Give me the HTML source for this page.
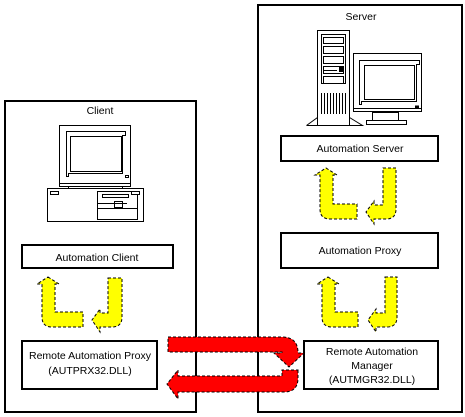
<!DOCTYPE html>
<html><head><meta charset="utf-8"><style>
html,body{margin:0;padding:0;background:#fff;}
svg{display:block;}
text{font-family:"Liberation Sans",sans-serif;font-size:10.5px;fill:#000;}
</style></head><body>
<svg width="465" height="417" viewBox="0 0 465 417" xmlns="http://www.w3.org/2000/svg">
<g fill="none" stroke="#000" stroke-width="2">
<rect x="5" y="101" width="191" height="311"/>
<rect x="258" y="5" width="204" height="407"/>
<rect x="22" y="245" width="151" height="23"/>
<rect x="22" y="341" width="135" height="48"/>
<rect x="281" y="136" width="157" height="25"/>
<rect x="281" y="233" width="157" height="35"/>
<rect x="304" y="341" width="134" height="48"/>
</g>
<text x="100" y="114" text-anchor="middle">Client</text>
<text x="361" y="20" text-anchor="middle">Server</text>
<text x="97" y="261" text-anchor="middle">Automation Client</text>
<text x="90" y="359" text-anchor="middle">Remote Automation Proxy</text>
<text x="90" y="374" text-anchor="middle">(AUTPRX32.DLL)</text>
<text x="360" y="152" text-anchor="middle">Automation Server</text>
<text x="360" y="254" text-anchor="middle">Automation Proxy</text>
<text x="372" y="355" text-anchor="middle">Remote Automation</text>
<text x="372" y="369" text-anchor="middle">Manager</text>
<text x="372" y="383" text-anchor="middle">(AUTMGR32.DLL)</text>

<!-- client computer -->
<g fill="#fff" stroke="#000" stroke-width="1">
<rect x="59.5" y="125.5" width="71" height="58"/>
<path d="M66.5,131.5 H125.5 V135.5 H122.5 V173.5 H68.5 V176.5 H66.5 Z"/>
<rect x="70.5" y="136.5" width="51" height="35"/>
<rect x="125.5" y="175.5" width="3" height="2"/>
<rect x="59.5" y="183.5" width="71" height="3"/>
<rect x="68.5" y="186.5" width="54" height="4"/>
<rect x="47.5" y="188.5" width="96" height="33"/>
<rect x="50.5" y="191.5" width="8" height="3"/>
<rect x="97.5" y="191.5" width="40" height="28"/>
<rect x="102.5" y="194.5" width="26" height="3"/>
<rect x="114.5" y="201.5" width="8" height="6"/>
<line x1="97.5" y1="203.5" x2="127" y2="203.5"/>
<line x1="97.5" y1="208.5" x2="137" y2="208.5"/>
<rect x="131.5" y="191.5" width="8" height="3"/>
</g>
<!-- server tower -->
<g fill="#fff" stroke="#000" stroke-width="1">
<path d="M306.5,125.5 L317.5,117.5 M349.5,117.5 L362.5,125.5 H306.5"/>
<rect x="317.5" y="30.5" width="32" height="95"/>
<rect x="321.5" y="34.5" width="24" height="49"/>
<rect x="323.5" y="37.5" width="20" height="6"/>
<rect x="323.5" y="46.5" width="20" height="7"/>
<rect x="323.5" y="56.5" width="20" height="7"/>
<rect x="323.5" y="66.5" width="20" height="7"/>
<rect x="323.5" y="76.5" width="20" height="7"/>
<rect x="339" y="67" width="5" height="5" fill="#000" stroke="none"/>
<line x1="323" y1="70.5" x2="337" y2="70.5"/>
<g stroke-width="1">
<path d="M321.5,93 V114 M324.5,93 V114 M327.5,93 V114 M330.5,93 V114 M333.5,93 V114 M336.5,93 V114 M339.5,93 V114 M342.5,93 V114 M345.5,93 V114"/>
</g>
<rect x="353.5" y="53.5" width="68" height="58"/>
<path d="M359.5,60.5 H419.5 V64.5 H416.5 V101.5 H361.5 V104.5 H359.5 Z"/>
<rect x="364.5" y="65.5" width="50" height="34"/>
<rect x="415.5" y="106" width="3" height="2" fill="#000"/>
<rect x="353.5" y="108.5" width="68" height="3"/>
<rect x="372.5" y="112.5" width="26" height="8"/>
<rect x="366.5" y="120.5" width="40" height="4"/>
</g>

<!-- yellow arrows -->
<g fill="#ff0" stroke="#000" stroke-width="1" stroke-dasharray="3,2">
<path d="M48,277 L59,284 H55 V312 H83 V327 H52 Q42,327 42,317 V284 H37 Z"/>
<path d="M108,278 H122 V317 Q122,327 112,327 H100 V332 L92,320 L100,309 V313 H108 Z"/>
<path d="M326,168 L337,175 H333 V204 H357 V219 H330 Q320,219 320,209 V175 H315 Z"/>
<path d="M383,168 H396 V209 Q396,219 386,219 H374 V224 L366,212 L374,201 V205 H383 Z"/>
<path d="M328,277 L339,284 H335 V312 H358 V327 H332 Q322,327 322,317 V284 H317 Z"/>
<path d="M385,277 H397 V317 Q397,327 387,327 H376 V332 L368,320 L376,309 V313 H385 Z"/>
</g>
<!-- red arrows -->
<g fill="#f00" stroke="#000" stroke-width="1" stroke-dasharray="3,2">
<path d="M168,337 H282 Q298,337 298,353 H304 L289,367 L274,353 H282 V352 H168 Z"/>
<path d="M298,370 V378 Q298,392 284,392 H178 V399 L167,384 L178,370 V376 H282 V370 Z"/>
</g>
</svg>
</body></html>
